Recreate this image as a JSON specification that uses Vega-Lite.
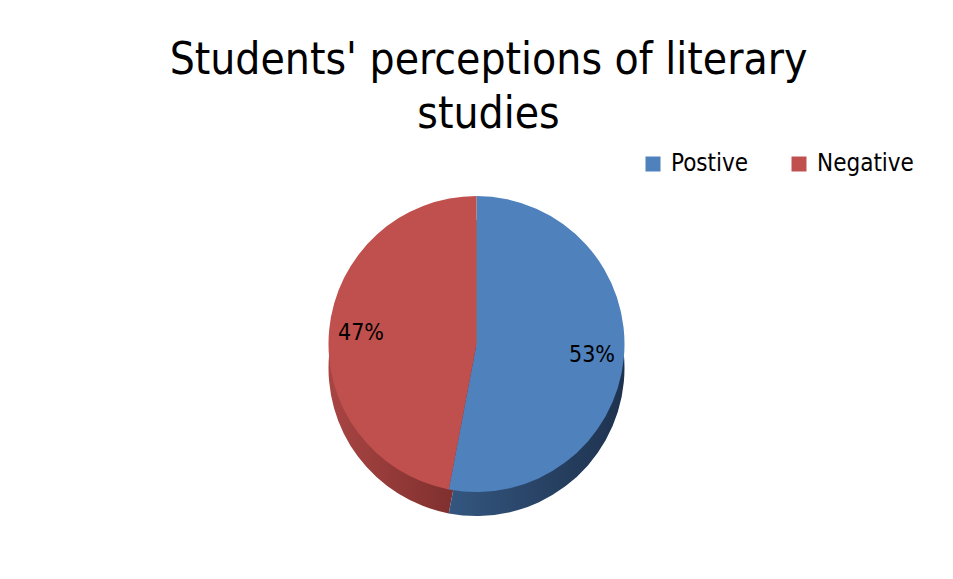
{
  "$schema": "https://vega.github.io/schema/vega-lite/v6.json",
  "width": 953,
  "height": 579,
  "autosize": {"type": "fit", "contains": "padding"},
  "padding": {"left": 0, "right": 0, "top": 39, "bottom": 36},
  "background": "white",
  "config": {"view": {"stroke": null}},
  "title": {
    "text": ["Students' perceptions of literary", "studies"],
    "font": "DejaVu Sans Condensed",
    "fontSize": 44,
    "fontWeight": "normal",
    "color": "black",
    "lineHeight": 54,
    "anchor": "middle",
    "dx": 12,
    "offset": 8
  },
  "data": {
    "values": [
      {"category": "Postive", "share": 53, "label": "53%", "order": 1},
      {"category": "Negative", "share": 47, "label": "47%", "order": 2}
    ]
  },
  "transform": [
    {"stack": "share", "groupby": [], "sort": [{"field": "order", "order": "ascending"}], "as": ["s0", "s1"]}
  ],
  "layer": [
    {
      "mark": {
        "type": "arc", "outerRadius": 148, "yOffset": 24,
        "color": {"gradient": "linear", "x1": 0, "x2": 1, "y1": 0, "y2": 0,
          "stops": [{"offset": 0, "color": "#A84543"}, {"offset": 1, "color": "#782C2B"}]}
      },
      "transform": [{"filter": "datum.category === 'Negative'"}],
      "encoding": {
        "theta": {"field": "s0", "type": "quantitative", "scale": {"domain": [0, 100]}},
        "theta2": {"field": "s1"}
      }
    },
    {
      "mark": {
        "type": "arc", "outerRadius": 148, "yOffset": 24,
        "color": {"gradient": "linear", "x1": 0, "x2": 1, "y1": 0, "y2": 0,
          "stops": [{"offset": 0, "color": "#34567F"}, {"offset": 1, "color": "#1E324E"}]}
      },
      "transform": [{"filter": "datum.category === 'Postive'"}],
      "encoding": {
        "theta": {"field": "s0", "type": "quantitative", "scale": {"domain": [0, 100]}},
        "theta2": {"field": "s1"}
      }
    },
    {
      "mark": {"type": "arc", "outerRadius": 148},
      "encoding": {
        "theta": {"field": "s0", "type": "quantitative", "scale": {"domain": [0, 100]}},
        "theta2": {"field": "s1"},
        "color": {
          "field": "category",
          "type": "nominal",
          "scale": {"domain": ["Postive", "Negative"], "range": ["#4F81BD", "#C0504D"]},
          "legend": {
            "title": null,
            "orient": "none",
            "direction": "horizontal",
            "legendX": 641,
            "legendY": 7,
            "symbolType": "square",
            "symbolSize": 225,
            "symbolStrokeWidth": 0,
            "labelFont": "DejaVu Sans Condensed",
            "labelFontSize": 24,
            "labelColor": "black",
            "labelOffset": 6,
            "columnPadding": 38
          }
        }
      }
    },
    {
      "mark": {"type": "text", "radius": 116, "font": "DejaVu Sans Condensed", "fontSize": 23, "color": "black"},
      "encoding": {
        "theta": {"field": "share", "type": "quantitative", "stack": true, "scale": {"domain": [0, 100]}},
        "order": {"field": "order", "type": "quantitative"},
        "text": {"field": "label", "type": "nominal"}
      }
    }
  ]
}
